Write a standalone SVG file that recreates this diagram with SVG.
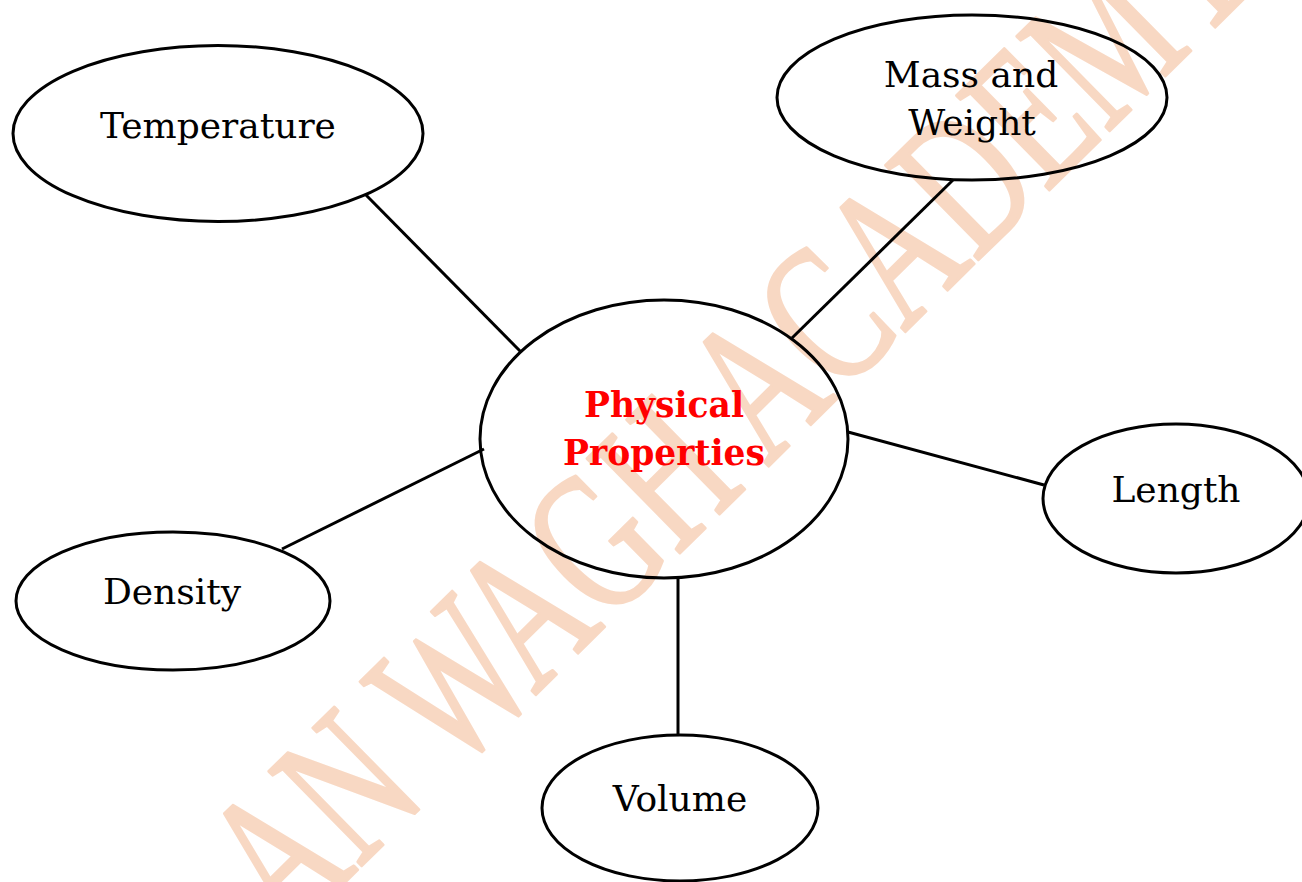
<svg xmlns="http://www.w3.org/2000/svg" width="1302" height="882" viewBox="0 0 1302 882">
<style>
.node ellipse{fill:none;stroke:#000;stroke-width:3}
.lbl{font-family:"DejaVu Serif","Liberation Serif",serif;font-size:36px;fill:#000;text-anchor:middle}
.main{font-family:"DejaVu Serif","Liberation Serif",serif;font-size:34.5px;font-weight:bold;fill:#ff0000;text-anchor:middle}
#connectors line{stroke:#000;stroke-width:3;fill:none}
.wm{font-family:"Liberation Serif","DejaVu Serif",serif;font-size:202px;fill:#f8d8c3;stroke:#f8d8c3;stroke-width:3;stroke-linejoin:round}
</style>
<rect width="1302" height="882" fill="#fff"/>
<g id="watermark" transform="rotate(-44.5)">
<text class="wm" x="-453" y="871" textLength="1371" lengthAdjust="spacingAndGlyphs">AN WAGH ACADEMY</text>
</g>
<g id="connectors">
<line x1="366" y1="195" x2="521" y2="352"/>
<line x1="953" y1="180" x2="792" y2="338"/>
<line x1="848" y1="432" x2="1044" y2="485"/>
<line x1="282" y1="549" x2="484" y2="449"/>
<line x1="678" y1="578" x2="678" y2="734"/>
</g>
<g id="physical" class="node">
<ellipse cx="664" cy="439" rx="184" ry="139"/>
<text class="main" x="664" y="417">Physical</text>
<text class="main" x="664" y="465">Properties</text>
</g>
<g id="temperature" class="node">
<ellipse cx="218" cy="133.5" rx="205" ry="88"/>
<text class="lbl" x="218" y="138">Temperature</text>
</g>
<g id="mass" class="node">
<ellipse cx="972" cy="97.5" rx="195" ry="82.5"/>
<text class="lbl" x="971" y="87">Mass and</text>
<text class="lbl" x="972" y="135">Weight</text>
</g>
<g id="length" class="node">
<ellipse cx="1176" cy="498.5" rx="133" ry="74.5"/>
<text class="lbl" x="1176" y="502">Length</text>
</g>
<g id="density" class="node">
<ellipse cx="173" cy="601" rx="157" ry="69"/>
<text class="lbl" x="172" y="604">Density</text>
</g>
<g id="volume" class="node">
<ellipse cx="680" cy="808" rx="138" ry="73"/>
<text class="lbl" x="680" y="811">Volume</text>
</g>
</svg>
